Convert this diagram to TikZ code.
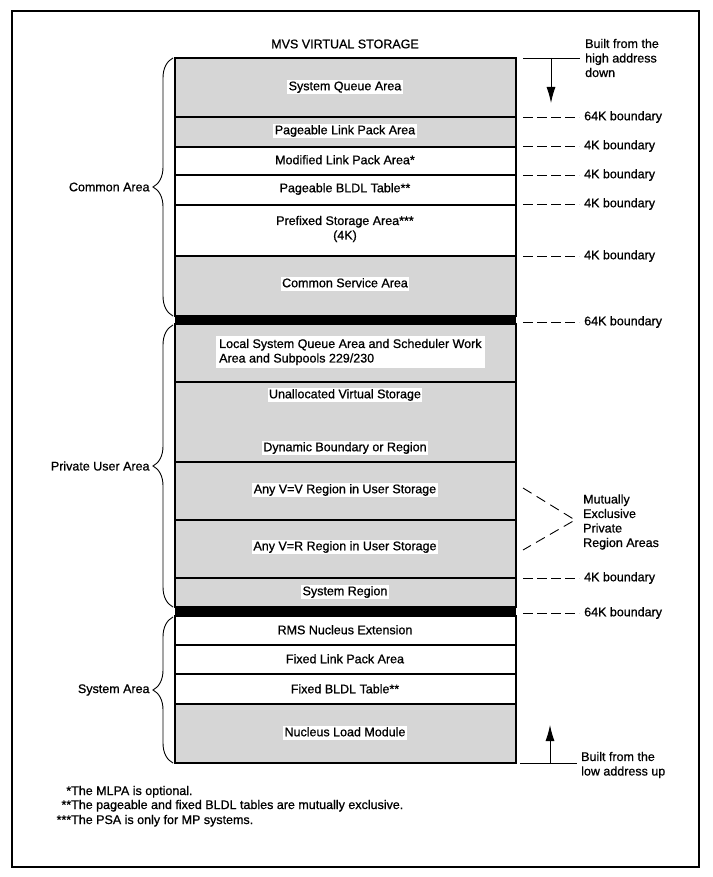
\documentclass[tikz,border=0pt]{standalone}
\usepackage{fontspec}
\setmainfont{Liberation Sans}[FakeBold=0.8]
\usetikzlibrary{arrows.meta,decorations.pathreplacing,positioning}

\tikzset{
  grayband/.style={fill=black!16, draw=black, line width=1.4pt},
  whiteband/.style={fill=white, draw=black, line width=1.4pt},
  lbl/.style={fill=white, inner sep=1.5pt, text height=9pt, text depth=2.5pt},
  side/.style={anchor=west, inner sep=0pt, text height=9pt, text depth=2.5pt},
  sidetext/.style={anchor=west, inner sep=0pt, align=left},
  bnd/.style={dash pattern=on 10pt off 4pt, line width=0.9pt},
  areabrace/.style={decorate, decoration={brace, amplitude=20pt}, line width=0.9pt},
  buildarrow/.style={line width=0.9pt, -{Latex[length=16pt,width=9pt]}}
}

\begin{document}
\begin{tikzpicture}[x=1pt, y=-1pt, font=\fontsize{12.5}{14.5}\selectfont]
\useasboundingbox (0,0) rectangle (712,877);
\draw[line width=2.2pt] (12,11) rectangle (699,867);

\node (title) at (345,44) {MVS VIRTUAL STORAGE};

\foreach \ya/\yb/\s in {58/117/grayband, 117/147/grayband, 147/175/whiteband,
    175/205/whiteband, 205/256/whiteband, 256/316/grayband, 324/382/grayband,
    382/462/grayband, 462/520/grayband, 520/578/grayband, 578/607/grayband,
    616/645/whiteband, 645/674/whiteband, 674/704/whiteband, 704/763/grayband}
  \draw[\s] (175,\ya) rectangle (516,\yb);
\fill (175,315) rectangle (516,324);
\fill (175,606) rectangle (516,616);

\node[lbl] (sqa) at (345,87) {System Queue Area};
\node[lbl] (plpa) at (345,131) {Pageable Link Pack Area};
\node[lbl] (mlpa) at (345,161) {Modified Link Pack Area*};
\node[lbl] (pbldl) at (345,189) {Pageable BLDL Table**};
\node[align=center, inner sep=0pt] (psa) at (345,229) {Prefixed Storage Area***\\(4K)};
\node[lbl] (csa) at (345,284) {Common Service Area};
\node[fill=white, align=left, anchor=west, inner sep=3pt] (lsqa) at (216,352)
  {Local System Queue Area and Scheduler Work\\Area and Subpools 229/230};
\node[lbl] (unalloc) at (345,395) {Unallocated Virtual Storage};
\node[lbl] (dynamic) at (345,448) {Dynamic Boundary or Region};
\node[lbl] (vv) at (345,490) {Any V=V Region in User Storage};
\node[lbl] (vr) at (345,547) {Any V=R Region in User Storage};
\node[lbl] (sysreg) at (345,592) {System Region};
\node[lbl] (rms) at (345,631) {RMS Nucleus Extension};
\node[lbl] (flpa) at (345,660) {Fixed Link Pack Area};
\node[lbl] (fbldl) at (345,690) {Fixed BLDL Table**};
\node[lbl] (nucleus) at (345,733) {Nucleus Load Module};

\draw[areabrace] (173,316) -- (173,58)
  node[midway, left=23pt, inner sep=0pt] (common) {Common Area};
\draw[areabrace] (173,607) -- (173,325)
  node[midway, left=23pt, inner sep=0pt] (private) {Private User Area};
\draw[areabrace] (173,763) -- (173,617)
  node[midway, left=23pt, inner sep=0pt] (sysarea) {System Area};

\node[sidetext] (high) at (585,58) {Built from the\\high address\\down};
\coordinate (hiedge) at (523,58);
\coordinate (hitop) at (551,58);
\coordinate (hibot) at (551,103);
\draw[line width=0.9pt] (hiedge) -- ([xshift=-5pt]high.west);
\draw[buildarrow] (hitop) -- (hibot);

\foreach \y/\t [count=\i] in {117/64K, 146/4K, 175/4K, 204/4K, 256/4K, 322/64K, 578/4K, 613/64K} {
  \node[side] (bnd\i) at (584,\y) {\t\ boundary};
  \draw[bnd] (523,\y) -- ([xshift=-5pt]bnd\i.west);
}

\node[sidetext] (mutex) at (583,522) {Mutually\\Exclusive\\Private\\Region Areas};
\coordinate (vvend) at (523,488);
\coordinate (vrend) at (523,550);
\coordinate (tip) at (575,520);
\draw[dash pattern=on 10pt off 6pt, line width=0.9pt] (vvend) -- (tip) -- (vrend);

\node[sidetext] (low) at (581,765) {Built from the\\low address up};
\coordinate (loedge) at (520,763);
\coordinate (lobot) at (550,763);
\coordinate (lotop) at (550,725);
\draw[line width=0.9pt] (loedge) -- ([xshift=-4pt]low.west |- loedge);
\draw[buildarrow] (lobot) -- (lotop);

\node[anchor=base west, inner sep=0pt] (fn1) at (71,795) {\llap{*}The MLPA is optional.};
\node[anchor=base west, inner sep=0pt] (fn2) at (71,809) {\llap{**}The pageable and fixed BLDL tables are mutually exclusive.};
\node[anchor=base west, inner sep=0pt] (fn3) at (71,824) {\llap{***}The PSA is only for MP systems.};
\end{tikzpicture}
\end{document}
